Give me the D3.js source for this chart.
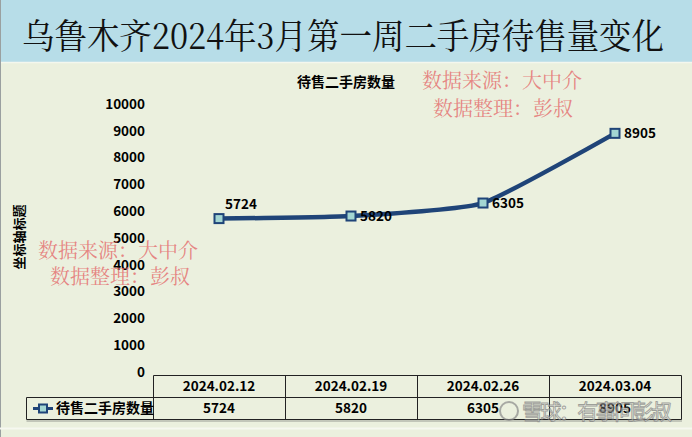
<!DOCTYPE html>
<html>
<head>
<meta charset="UTF-8">
<title>乌鲁木齐二手房待售量</title>
<script src="https://cdn.jsdelivr.net/npm/d3@7"></script>
<style>
  body { margin: 0; background: #fff; }
  svg { display: block; }
</style>
</head>
<body>
<div id="chart"></div>
<script>

// data
var dates  = ["2024.02.12", "2024.02.19", "2024.02.26", "2024.03.04"]
var counts = [5724, 5820, 6305, 8905]
var yTicks = [0, 1000, 2000, 3000, 4000, 5000, 6000, 7000, 8000, 9000, 10000]
var seriesName = "待售二手房数量"

var width = 692, height = 437
var cjk = "'Noto Sans CJK SC', 'Noto Sans', sans-serif"
var serif = "'Noto Serif CJK SC', 'DejaVu Serif', 'Noto Sans CJK SC', serif"

var svg = d3.select("#chart").append("svg")
	.attr("width", width)
	.attr("height", height)

// chart area background + title bar
svg.append("rect").attr("x", 0).attr("y", 0).attr("width", width).attr("height", height).attr("fill", "#ebf0de")
svg.append("rect").attr("x", 0).attr("y", 0).attr("width", width).attr("height", 62).attr("fill", "#b7dde8")
svg.append("line").attr("x1", 0).attr("x2", width).attr("y1", 62.5).attr("y2", 62.5).attr("stroke", "#f4f7ee").attr("stroke-width", 1.5)
svg.append("line").attr("x1", 0.5).attr("x2", 0.5).attr("y1", 0).attr("y2", height).attr("stroke", "#9aa0a0")

svg.append("text")
	.attr("x", 343).attr("y", 49)
	.attr("text-anchor", "middle")
	.attr("font-family", serif)
	.attr("font-size", 35)
	.attr("textLength", 642)
	.attr("lengthAdjust", "spacingAndGlyphs")
	.attr("fill", "#111")
	.text("乌鲁木齐2024年3月第一周二手房待售量变化")

svg.append("text")
	.attr("x", 346).attr("y", 87)
	.attr("text-anchor", "middle")
	.attr("font-family", cjk).attr("font-weight", "bold").attr("font-size", 14)
	.text(seriesName)

// scales
var x = d3.scaleBand().domain(dates).range([153, 681])
var y = d3.scaleLinear().domain([0, 10000]).range([372, 104])

// y axis labels (no axis line in the picture)
var yAxis = d3.axisLeft(y).tickValues(yTicks).tickSize(0).tickPadding(0).tickFormat(d3.format("d"))
var gy = svg.append("g").attr("transform", "translate(145,0)").call(yAxis)
gy.select(".domain").remove()
gy.selectAll("text")
	.attr("font-family", cjk).attr("font-weight", "bold").attr("font-size", 13.5).attr("fill", "#000")

svg.append("text")
	.attr("transform", "translate(24,237) rotate(-90)")
	.attr("text-anchor", "middle")
	.attr("font-family", cjk).attr("font-weight", "bold").attr("font-size", 13)
	.text("坐标轴标题")

// line, lightly smoothed like the original
var cx = function(d, i) { return x(dates[i]) + x.bandwidth() / 2 }
var line = d3.line()
	.x(cx)
	.y(function(d) { return y(d) })
	.curve(d3.curveCardinal.tension(0.55))

svg.append("path")
	.datum(counts)
	.attr("d", line)
	.attr("fill", "none")
	.attr("stroke", "#1f4478")
	.attr("stroke-width", 4.5)

svg.selectAll(".pt")
	.data(counts).enter()
	.append("rect")
	.attr("class", "pt")
	.attr("x", function(d, i) { return cx(d, i) - 4.5 })
	.attr("y", function(d) { return y(d) - 4.5 })
	.attr("width", 9).attr("height", 9)
	.attr("fill", "#a3d6d2")
	.attr("stroke", "#1f4478")
	.attr("stroke-width", 2)

// data labels: first one sits above, the rest to the right
svg.selectAll(".lbl")
	.data(counts).enter()
	.append("text")
	.attr("class", "lbl")
	.attr("x", function(d, i) { return i == 0 ? cx(d, i) + 6 : cx(d, i) + 9 })
	.attr("y", function(d, i) { return i == 0 ? y(d) - 10 : y(d) + 5 })
	.attr("font-family", cjk).attr("font-weight", "bold").attr("font-size", 13.5)
	.attr("fill", "#000")
	.text(function(d) { return d })

// data table under the plot
var tTop = 375.5, tMid = 397.5, tBot = 419.5, legLeft = 26.5
var tbl = svg.append("g").attr("stroke", "#222").attr("stroke-width", 1)
tbl.append("line").attr("x1", x.range()[0] + 0.5).attr("x2", x.range()[1] + 0.5).attr("y1", tTop).attr("y2", tTop)
tbl.append("line").attr("x1", legLeft).attr("x2", x.range()[1] + 0.5).attr("y1", tMid).attr("y2", tMid)
tbl.append("line").attr("x1", legLeft).attr("x2", x.range()[1] + 0.5).attr("y1", tBot).attr("y2", tBot)
tbl.append("line").attr("x1", legLeft).attr("x2", legLeft).attr("y1", tMid).attr("y2", tBot)
tbl.selectAll(".vl")
	.data(dates.concat(["end"])).enter()
	.append("line")
	.attr("x1", function(d, i) { return Math.round(x.range()[0] + i * x.bandwidth()) + 0.5 })
	.attr("x2", function(d, i) { return Math.round(x.range()[0] + i * x.bandwidth()) + 0.5 })
	.attr("y1", tTop).attr("y2", tBot)
// soft shadow below the table
svg.append("line").attr("x1", legLeft).attr("x2", x.range()[1] + 1).attr("y1", tBot + 1.5).attr("y2", tBot + 1.5)
	.attr("stroke", "#b5b8ad").attr("stroke-width", 1.5)

svg.selectAll(".hd")
	.data(dates).enter()
	.append("text")
	.attr("x", function(d) { return x(d) + x.bandwidth() / 2 })
	.attr("y", 391)
	.attr("text-anchor", "middle")
	.attr("font-family", cjk).attr("font-weight", "bold").attr("font-size", 13.5)
	.text(function(d) { return d })

svg.selectAll(".cv")
	.data(counts).enter()
	.append("text")
	.attr("x", function(d, i) { return cx(d, i) })
	.attr("y", 413)
	.attr("text-anchor", "middle")
	.attr("font-family", cjk).attr("font-weight", "bold").attr("font-size", 13.5)
	.text(function(d) { return d })

// legend key in the table
svg.append("line").attr("x1", 33).attr("x2", 53).attr("y1", 408.5).attr("y2", 408.5).attr("stroke", "#1f4478").attr("stroke-width", 3)
svg.append("rect").attr("x", 39).attr("y", 404.5).attr("width", 8).attr("height", 8)
	.attr("fill", "#a3d6d2").attr("stroke", "#1f4478").attr("stroke-width", 2)
svg.append("text")
	.attr("x", 56).attr("y", 413)
	.attr("font-family", cjk).attr("font-weight", "bold").attr("font-size", 14)
	.text(seriesName)

// chart bottom edge + cut-off x axis title
svg.append("line").attr("x1", 0).attr("x2", width).attr("y1", 428.5).attr("y2", 428.5).attr("stroke", "#f6f8f0").attr("stroke-width", 2)
svg.append("text")
	.attr("x", 350).attr("y", 448)
	.attr("text-anchor", "middle")
	.attr("font-family", cjk).attr("font-weight", "bold").attr("font-size", 13)
	.text("坐标轴标题")

// red source stamps
var stamps = [
	{ t: "数据来源：大中介", x: 422, y: 88 },
	{ t: "数据整理：彭叔", x: 433, y: 116 },
	{ t: "数据来源：大中介", x: 38, y: 258 },
	{ t: "数据整理：彭叔", x: 50, y: 284 }
]
svg.selectAll(".stamp")
	.data(stamps).enter()
	.append("text")
	.attr("x", function(d) { return d.x })
	.attr("y", function(d) { return d.y })
	.attr("font-family", serif).attr("font-size", 20)
	.attr("fill", "#e46a6a").attr("fill-opacity", 0.8)
	.text(function(d) { return d.t })

// site watermark
var wm = svg.append("g").attr("opacity", 0.7)
wm.append("circle").attr("cx", 509).attr("cy", 411).attr("r", 9)
	.attr("fill", "none").attr("stroke", "#8a8a8a").attr("stroke-width", 2)
wm.append("text")
	.attr("x", 522).attr("y", 419)
	.attr("font-family", cjk).attr("font-size", 21)
	.attr("textLength", 150)
	.attr("fill", "#f4f4f0").attr("stroke", "#7d7d7d").attr("stroke-width", 0.9)
	.text("雪球：有事问彭叔")

</script>
</body>
</html>
